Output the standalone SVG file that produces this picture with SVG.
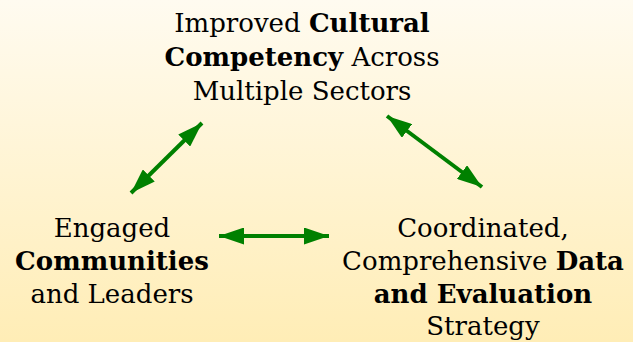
<svg xmlns="http://www.w3.org/2000/svg" width="633" height="342" viewBox="0 0 633 342">
<defs>
<linearGradient id="bg" x1="0" y1="0" x2="0" y2="1">
<stop offset="0" stop-color="#FFFBF0"/>
<stop offset="1" stop-color="#FFEDB6"/>
</linearGradient>
<marker id="ah" viewBox="0 0 25 17" markerWidth="25" markerHeight="17" refX="25" refY="8.5" markerUnits="userSpaceOnUse" orient="auto-start-reverse">
<path d="M0,0 L25,8.5 L0,17 z" fill="#008000"/>
</marker>
<style>
text{font-family:"DejaVu Serif","Liberation Serif",serif;font-size:26px;fill:#000;text-anchor:middle}
.b{font-weight:bold}
.c{stroke:#008000;stroke-width:4;fill:none;marker-start:url(#ah);marker-end:url(#ah)}
</style>
</defs>
<rect width="633" height="342" fill="url(#bg)"/>
<g id="top">
<text x="302" y="32">Improved <tspan class="b">Cultural</tspan></text>
<text x="302" y="66"><tspan class="b">Competency</tspan> Across</text>
<text x="302" y="100">Multiple Sectors</text>
</g>
<g id="left">
<text x="112" y="237">Engaged</text>
<text x="112" y="270" class="b">Communities</text>
<text x="112" y="303">and Leaders</text>
</g>
<g id="right">
<text x="483" y="237">Coordinated,</text>
<text x="483" y="270">Comprehensive <tspan class="b">Data</tspan></text>
<text x="483" y="303" class="b">and Evaluation</text>
<text x="483" y="335">Strategy</text>
</g>
<g id="connectors">
<path class="c" d="M131,193 L202,123"/>
<path class="c" d="M387,116 L482,187"/>
<path class="c" d="M219,236 L329,236"/>
</g>
</svg>
